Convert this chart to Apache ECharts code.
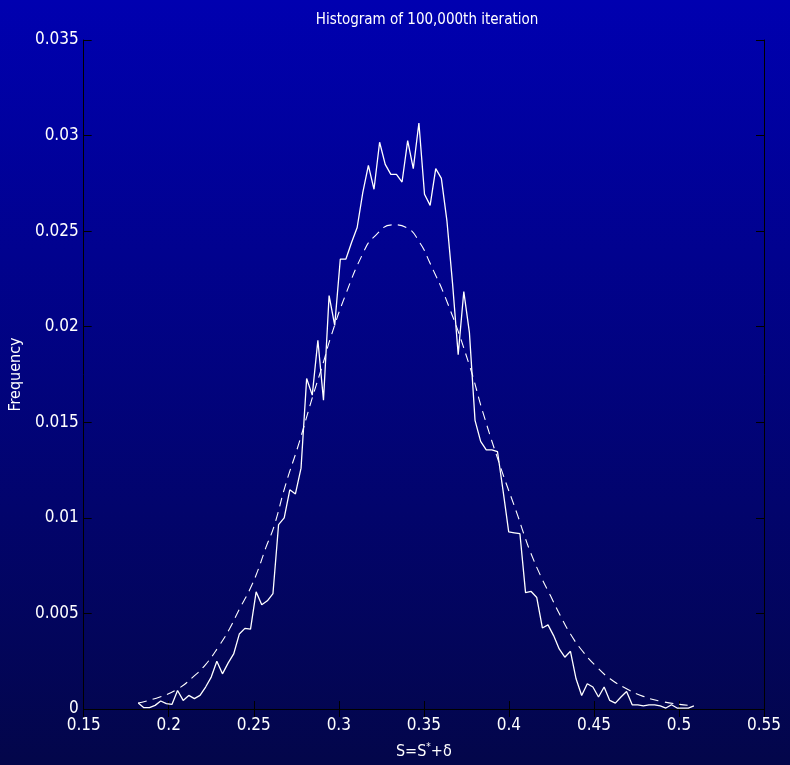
<!DOCTYPE html>
<html>
<head>
<meta charset="utf-8">
<title>Histogram of 100,000th iteration</title>
<script src="https://cdn.jsdelivr.net/npm/echarts@6/dist/echarts.min.js"></script>
<style>
    html, body { margin: 0; padding: 0; }
    #hist_chart { width: 790px; height: 765px; }
</style>
</head>
<body>
<div id="hist_chart"></div>
<script>
    // bin centres of the histogram (x)
    var binCentres = [
        0.1821, 0.1854, 0.1887, 0.1920, 0.1953, 0.1986, 0.2019, 0.2052, 0.2085, 0.2118,
        0.2151, 0.2184, 0.2217, 0.2250, 0.2283, 0.2316, 0.2349, 0.2382, 0.2415, 0.2448,
        0.2481, 0.2514, 0.2547, 0.2580, 0.2613, 0.2646, 0.2679, 0.2712, 0.2745, 0.2778,
        0.2811, 0.2844, 0.2877, 0.2910, 0.2943, 0.2976, 0.3009, 0.3042, 0.3075, 0.3108,
        0.3141, 0.3174, 0.3207, 0.3240, 0.3273, 0.3306, 0.3339, 0.3372, 0.3405, 0.3438,
        0.3471, 0.3504, 0.3537, 0.3570, 0.3603, 0.3636, 0.3669, 0.3702, 0.3735, 0.3768,
        0.3801, 0.3834, 0.3867, 0.3900, 0.3933, 0.3966, 0.3999, 0.4032, 0.4065, 0.4098,
        0.4131, 0.4164, 0.4197, 0.4230, 0.4263, 0.4296, 0.4329, 0.4362, 0.4395, 0.4428,
        0.4461, 0.4494, 0.4527, 0.4560, 0.4593, 0.4626, 0.4659, 0.4692, 0.4725, 0.4758,
        0.4791, 0.4824, 0.4857, 0.4890, 0.4923, 0.4956, 0.4989, 0.5022, 0.5055, 0.5088
    ];

    // frequency of each bin (solid line)
    var binFreq = [
        0.00031, 0.00007, 0.00007, 0.00019, 0.00042, 0.00028, 0.00024, 0.00097, 0.00045, 0.00071,
        0.00054, 0.00071, 0.00115, 0.00167, 0.00250, 0.00184, 0.00240, 0.00288, 0.00392, 0.00422,
        0.00418, 0.00613, 0.00545, 0.00566, 0.00604, 0.00965, 0.01000, 0.01147, 0.01125, 0.01260,
        0.01729, 0.01642, 0.01929, 0.01616, 0.02163, 0.02007, 0.02354, 0.02354, 0.02441, 0.02519,
        0.02702, 0.02844, 0.02719, 0.02965, 0.02849, 0.02797, 0.02797, 0.02757, 0.02974, 0.02827,
        0.03066, 0.02693, 0.02635, 0.02827, 0.02776, 0.02552, 0.02224, 0.01854, 0.02184, 0.01969,
        0.01510, 0.01400, 0.01356, 0.01356, 0.01347, 0.01141, 0.00927, 0.00922, 0.00917, 0.00609,
        0.00615, 0.00583, 0.00424, 0.00440, 0.00384, 0.00314, 0.00271, 0.00302, 0.00158, 0.00071,
        0.00132, 0.00115, 0.00063, 0.00115, 0.00045, 0.00031, 0.00063, 0.00092, 0.00022, 0.00022,
        0.00016, 0.00022, 0.00022, 0.00016, 0.00005, 0.00022, 0.00005, 0.00005, 0.00005, 0.00016
    ];

    // fitted curve (dashed line)
    var fitX = [
        0.1820, 0.1948, 0.2055, 0.2142, 0.2218, 0.2298, 0.2357, 0.2415, 0.2474, 0.2522,
        0.2571, 0.2620, 0.2687, 0.2766, 0.2843, 0.2911, 0.2950, 0.3038, 0.3145, 0.3204,
        0.3320, 0.3398, 0.3476, 0.3534, 0.3641, 0.3768, 0.3846, 0.3953, 0.4050, 0.4089,
        0.4128, 0.4187, 0.4245, 0.4303, 0.4362, 0.4430, 0.4508, 0.4595, 0.4692, 0.4790,
        0.4897, 0.5004, 0.5051
    ];
    var fitY = [
        0.00031, 0.00063, 0.00106, 0.00167, 0.00234, 0.00333, 0.00418, 0.00522, 0.00620, 0.00720,
        0.00844, 0.00958, 0.01173, 0.01391, 0.01625, 0.01818, 0.01938, 0.02163, 0.02389, 0.02467,
        0.02533, 0.02519, 0.02440, 0.02337, 0.02120, 0.01798, 0.01556, 0.01260, 0.01017, 0.00913,
        0.00818, 0.00696, 0.00592, 0.00488, 0.00392, 0.00306, 0.00228, 0.00158, 0.00106, 0.00066,
        0.00040, 0.00024, 0.00020
    ];

    var xTicks = [0.15, 0.2, 0.25, 0.3, 0.35, 0.4, 0.45, 0.5, 0.55];
    var yTicks = [0, 0.005, 0.01, 0.015, 0.02, 0.025, 0.03, 0.035];

    var fontName = "'Liberation Sans Narrow', 'DejaVu Sans Condensed', 'Liberation Sans', sans-serif";

    function pairs(xs, ys) {
        var out = [];
        for (var i = 0; i < xs.length; i++) {
            out.push([xs[i], ys[i]]);
        }
        return out;
    }

    function drawHistogram() {
        var myChart = echarts.init(document.getElementById('hist_chart'));
        var axisLine = { show: true, lineStyle: { color: '#000000', width: 1 } };
        var axisTick = { show: true, inside: true, length: 8, lineStyle: { color: '#000000' } };
        var option = {
            backgroundColor: new echarts.graphic.LinearGradient(0, 0, 0, 1, [
                { offset: 0, color: '#0000b0' },
                { offset: 1, color: '#03064a' }
            ]),
            animation: false,
            title: {
                text: 'Histogram of 100,000th iteration',
                left: 422,
                textAlign: 'center',
                top: 8,
                textStyle: { color: '#ffffff', fontSize: 15, fontWeight: 'normal', fontFamily: fontName }
            },
            grid: {
                left: 80,
                right: 26,
                top: 40,
                bottom: 53
            },
            xAxis: [
                {
                    type: 'value',
                    min: xTicks[0],
                    max: xTicks[xTicks.length - 1],
                    interval: 0.05,
                    name: 'S=S{sup|*}+δ',
                    nameLocation: 'middle',
                    nameGap: 33,
                    nameTextStyle: {
                        color: '#ffffff', fontSize: 16, fontFamily: fontName,
                        rich: { sup: { color: '#ffffff', fontSize: 10, verticalAlign: 'top', padding: [0, 0, 10, 0], fontFamily: fontName } }
                    },
                    axisLine: axisLine,
                    axisTick: axisTick,
                    splitLine: { show: false },
                    axisLabel: { color: '#ffffff', fontSize: 17, margin: 8, fontFamily: fontName }
                },
                {
                    type: 'value',
                    position: 'top',
                    min: xTicks[0],
                    max: xTicks[xTicks.length - 1],
                    interval: 0.05,
                    axisLine: axisLine,
                    axisTick: axisTick,
                    splitLine: { show: false },
                    axisLabel: { show: false }
                }
            ],
            yAxis: [
                {
                    type: 'value',
                    min: yTicks[0],
                    max: yTicks[yTicks.length - 1],
                    interval: 0.005,
                    name: 'Frequency',
                    nameLocation: 'middle',
                    nameGap: 46,
                    nameTextStyle: { color: '#ffffff', fontSize: 16, fontFamily: fontName },
                    axisLine: axisLine,
                    axisTick: axisTick,
                    splitLine: { show: false },
                    axisLabel: { color: '#ffffff', fontSize: 17, margin: 5, fontFamily: fontName }
                },
                {
                    type: 'value',
                    position: 'right',
                    min: yTicks[0],
                    max: yTicks[yTicks.length - 1],
                    interval: 0.005,
                    axisLine: axisLine,
                    axisTick: axisTick,
                    splitLine: { show: false },
                    axisLabel: { show: false }
                }
            ],
            series: [
                {
                    name: 'fit',
                    type: 'line',
                    smooth: true,
                    symbol: 'none',
                    data: pairs(fitX, fitY),
                    lineStyle: { color: '#ffffff', width: 1.1, type: [9, 6] }
                },
                {
                    name: 'histogram',
                    type: 'line',
                    symbol: 'none',
                    data: pairs(binCentres, binFreq),
                    lineStyle: { color: '#ffffff', width: 1.3 }
                }
            ]
        };
        myChart.setOption(option);
    }

    drawHistogram();
</script>
</body>
</html>
